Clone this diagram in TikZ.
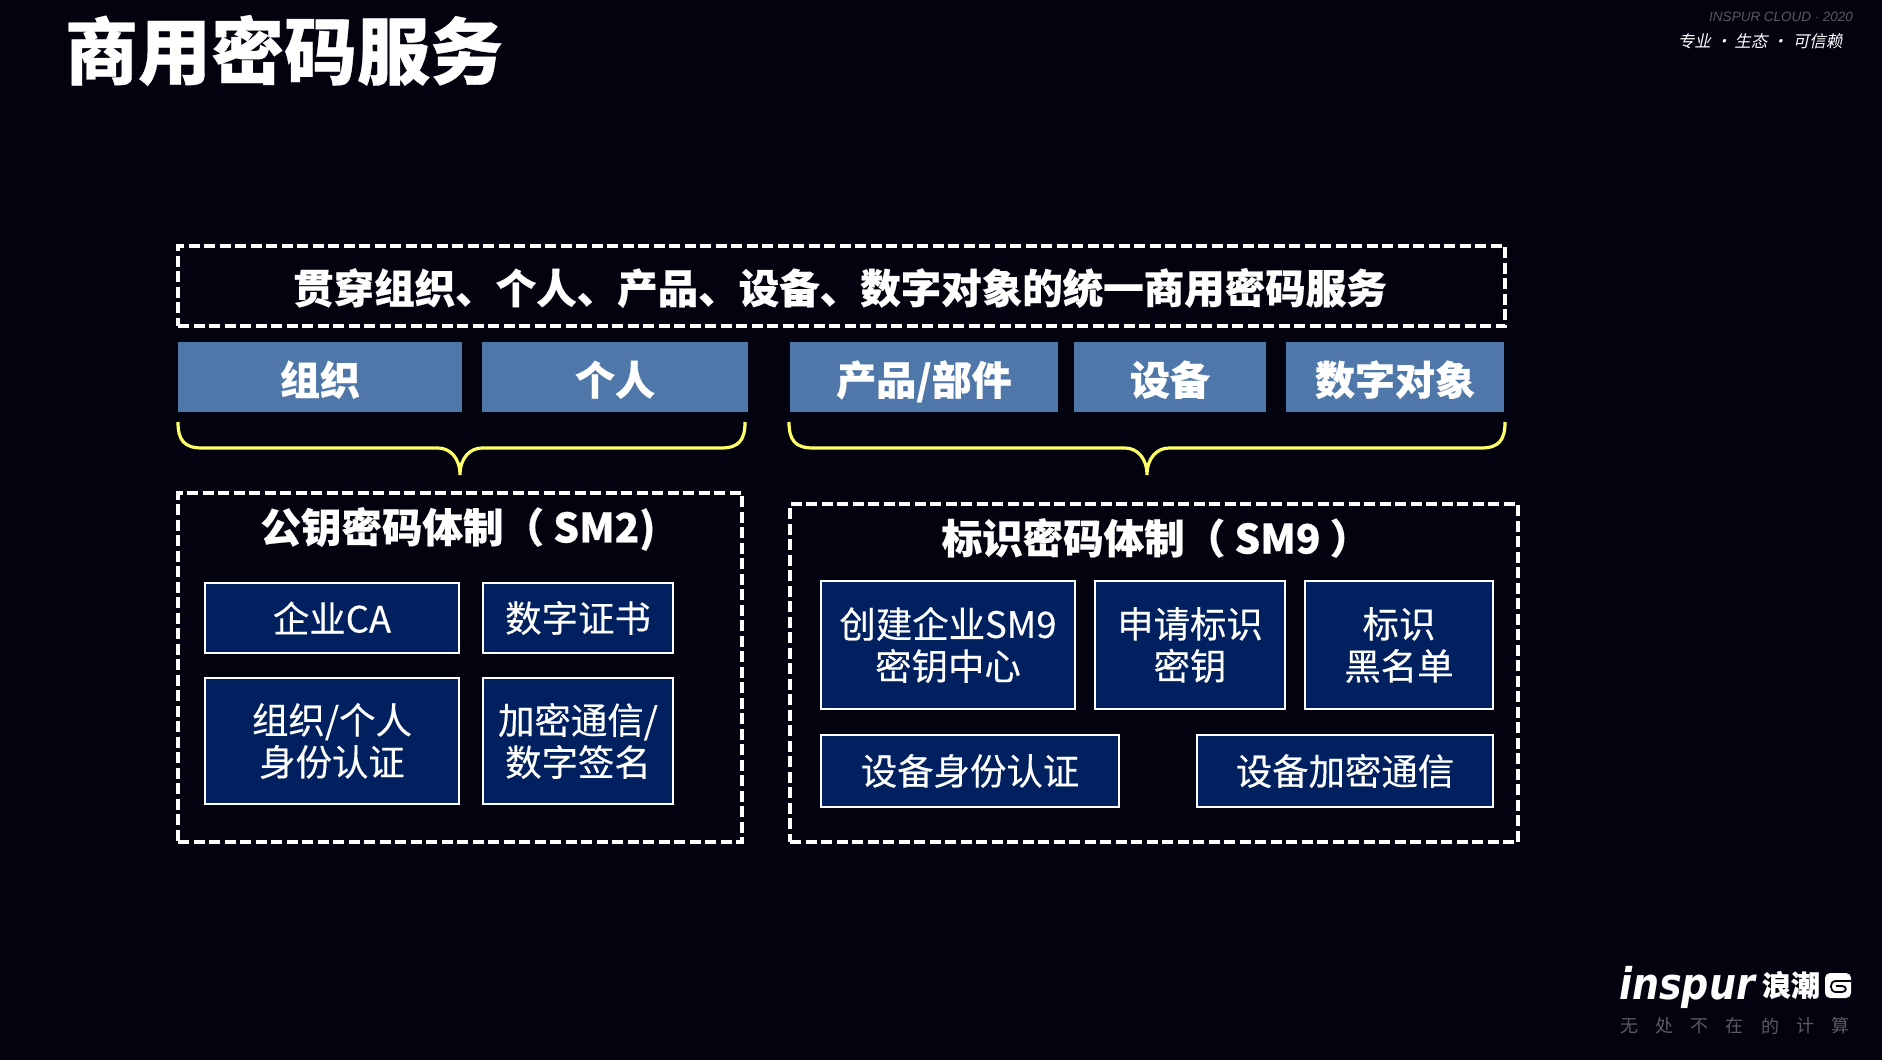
\documentclass[tikz,border=0pt]{standalone}
\usepackage{fontspec}
\usepackage{xcolor}
\usetikzlibrary{arrows.meta,positioning}
\setmainfont[BoldFeatures={FakeBold=0.5}]{Noto Sans CJK SC}
\newfontfamily\itemcjk[FakeBold=0.35]{Noto Sans CJK SC}
\newfontfamily\slantcjk[FakeSlant=0.22]{Noto Sans CJK SC}
\newfontfamily\slantlatin{Liberation Sans}
\newfontfamily\logolatin[BoldFeatures={FakeBold=0.8}]{DejaVu Sans}
\definecolor{night}{HTML}{03030F}
\definecolor{steel}{HTML}{4F77A9}
\definecolor{navy}{HTML}{002060}
\definecolor{lemon}{HTML}{FFFF66}
\definecolor{dimgrey}{HTML}{5A5A66}
\tikzset{
  dashbox/.style={draw=white,line width=3.5pt,dash pattern=on 11pt off 4.5pt,inner sep=0pt},
  tagbox/.style={fill=steel,text=white,inner sep=0pt,minimum height=70pt,text height=38pt,text depth=2pt,font=\fontsize{40}{46}\selectfont\bfseries},
  itembox/.style={draw=white,fill=navy,text=white,line width=2pt,inner sep=0pt,align=center,font=\itemcjk\fontsize{36.4}{42}\selectfont},
  headtext/.style={text=white,inner sep=0pt,font=\fontsize{40.5}{46}\selectfont\bfseries},
  bracepath/.style={draw=lemon,line width=3.2pt}
}
\begin{document}
\begin{tikzpicture}[x=1pt,y=-1pt]
  % page
  \fill[night] (0,0) rectangle (1882,1060);
  % title and corner
  \node[text=white,inner sep=0pt,font=\fontsize{73}{80}\selectfont\bfseries] (title) at (284,50.5) {商用密码服务};
  \node[text=dimgrey,inner sep=0pt,font=\slantlatin\itshape\fontsize{13.5}{17}\selectfont] (cloud) at (1781,17) {INSPUR CLOUD $\cdot$ 2020};
  \node[text=white,inner sep=0pt,font=\slantcjk\fontsize{16.5}{20}\selectfont] (motto) at (1760,41) {专业\hspace{4pt}・\hspace{3pt}生态\hspace{4pt}・\hspace{5pt}可信赖};
  % service band
  \node[dashbox,minimum width=1327pt,minimum height=80pt] (band) at (841.5,286) {};
  \node[headtext] (bandtext) at (840,288) {贯穿组织、个人、产品、设备、数字对象的统一商用密码服务};
  % tags
  \foreach \nm/\xa/\xb/\txt in {org/178/462/组织,person/482/748/个人,
      part/790/1058/{产品/部件},device/1074/1266/设备,object/1286/1504/数字对象}{
    \node[tagbox,minimum width=\xb-\xa] (\nm) at ({(\xa+\xb)/2},377) {\txt};
  }
  % braces
  \foreach \xl/\xm/\xr in {178/460/745,789/1147/1505}{
    \draw[bracepath] (\xl,422) .. controls (\xl,440) and (\xl+6,448) .. (\xl+24,448)
      -- (\xm-22,448) .. controls (\xm-10,448) and (\xm,458) .. (\xm,475)
      .. controls (\xm,458) and (\xm+10,448) .. (\xm+22,448)
      -- (\xr-24,448) .. controls (\xr-6,448) and (\xr,440) .. (\xr,422);
  }
  % public key group
  \node[dashbox,minimum width=564pt,minimum height=349pt] (pubgroup) at (460,667.5) {};
  \node[headtext] (pubhead) at (458,529) {公钥密码体制（ SM2)};
  % identity group
  \node[dashbox,minimum width=728pt,minimum height=338pt] (idgroup) at (1154,673) {};
  \node[headtext] (idhead) at (1156,538) {标识密码体制（ SM9 ）};
  % items
  \foreach \nm/\xa/\ya/\xb/\yb/\txt in {
      ca/205/583/459/653/企业CA,
      cert/483/583/673/653/数字证书,
      auth/205/678/459/804/{组织/个人\\身份认证},
      sign/483/678/673/804/{加密通信/\\数字签名},
      kgc/821/581/1075/709/创建企业SM9\\密钥中心,
      apply/1095/581/1285/709/申请标识\\密钥,
      black/1305/581/1493/709/标识\\黑名单,
      devauth/821/735/1119/807/设备身份认证,
      devcomm/1197/735/1493/807/设备加密通信}{
    \node[itembox,minimum width=\xb-\xa,minimum height=\yb-\ya] (\nm) at ({(\xa+\xb)/2},{(\ya+\yb)/2}) {\txt};
  }
  % logo
  \node[text=white,inner sep=0pt,font=\logolatin\bfseries\itshape\fontsize{38}{40}\selectfont] (inspur) at (1687,987) {\scalebox{1}[1.15]{inspur}};
  \node[text=white,inner sep=0pt,font=\fontsize{29}{32}\selectfont\bfseries] (lang) at (1791,985) {浪潮};
  \fill[white,rounded corners=5pt] (1825,973) rectangle (1851,998);
  \draw[night,line width=1.8pt] (1851,981) -- (1836,981) .. controls (1829,981) and (1829,992) .. (1836,992)
    -- (1842,992) .. controls (1847,992) and (1847,986) .. (1842,986) -- (1836,986);
  \foreach \i/\ch in {0/无,1/处,2/不,3/在,4/的,5/计,6/算}{
    \node[text=dimgrey,inner sep=0pt,font=\fontsize{18}{20}\selectfont] (slogan\i) at (1629+35.3*\i,1026) {\ch};
  }
\end{tikzpicture}
\end{document}
